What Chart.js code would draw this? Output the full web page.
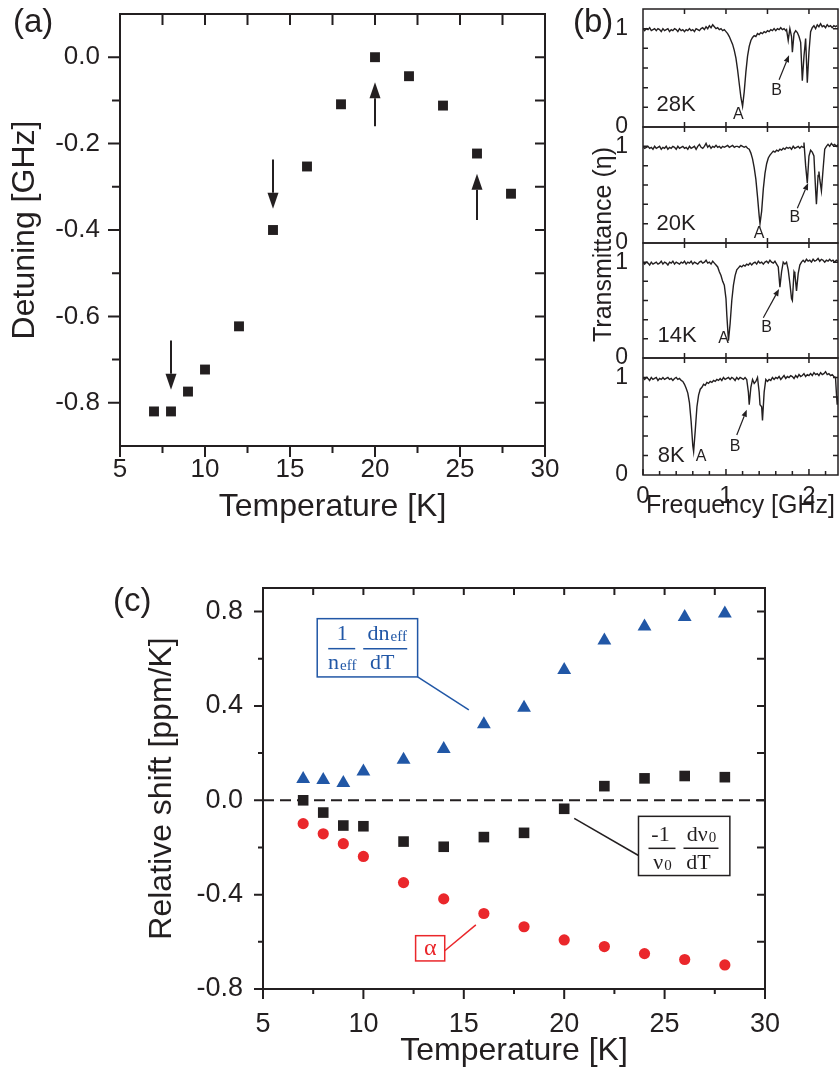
<!DOCTYPE html>
<html>
<head>
<meta charset="utf-8">
<title>Detuning, transmittance and relative shift vs temperature</title>
<script src="https://cdn.jsdelivr.net/npm/chart.js@4.4.1/dist/chart.umd.min.js"></script>
<style>
  body { margin: 0; background: #fff; }
  #page { position: relative; width: 839px; height: 1074px; overflow: hidden; font-family: "Liberation Sans", Arial, sans-serif; color: #231f20; }
  #page canvas { position: absolute; }
  .panel { position: absolute; font-size: 33px; line-height: 33px; }
  #tlabel { position: absolute; width: 240px; text-align: center; font-size: 25px; line-height: 25px; white-space: nowrap; transform: rotate(-90deg); }
</style>
</head>
<body>
<div id="page">
  <canvas id="chartA" width="580" height="540" style="left:0;top:0"></canvas>
  <canvas id="chartB28" width="259" height="140" style="left:580px;top:0"></canvas>
  <canvas id="chartB20" width="259" height="139" style="left:580px;top:117px"></canvas>
  <canvas id="chartB14" width="259" height="138" style="left:580px;top:233px"></canvas>
  <canvas id="chartB8" width="259" height="192" style="left:580px;top:348px"></canvas>
  <canvas id="chartC" width="839" height="514" style="left:0;top:560px"></canvas>
  <div class="panel" style="left:13px;top:4px">(a)</div>
  <div class="panel" style="left:573px;top:4px">(b)</div>
  <div class="panel" style="left:113px;top:583px">(c)</div>
  <div id="tlabel" style="left:482px;top:232px">Transmittance (&eta;)</div>
</div>
<script>
// ---- panel (a): detuning ----
var tempA = [7, 8, 9, 10, 12, 14, 16, 18, 20, 22, 24, 26, 28];
var detuning = [-0.82, -0.82, -0.774, -0.723, -0.623, -0.40, -0.253, -0.109, 0.0, -0.044, -0.112, -0.223, -0.316];
var tempTicks = [5, 10, 15, 20, 25, 30];
var tempMinor = [7.5, 12.5, 17.5, 22.5, 27.5];
var detTicks = [-0.8, -0.6, -0.4, -0.2, 0.0];
var detMinor = [-0.7, -0.5, -0.3, -0.1];

// ---- panel (b): transmittance spectra ----
var freq28 = [0.00, 0.02, 0.04, 0.06, 0.08, 0.10, 0.12, 0.14, 0.16, 0.18, 0.20, 0.22, 0.24, 0.26, 0.28, 0.30, 0.32, 0.34, 0.36, 0.38, 0.40, 0.42, 0.44, 0.46, 0.48, 0.50, 0.52, 0.54, 0.56, 0.58, 0.60, 0.62, 0.64, 0.66, 0.68, 0.70, 0.72, 0.74, 0.76, 0.78, 0.80, 0.82, 0.84, 0.86, 0.88, 0.90, 0.92, 0.94, 0.96, 0.98, 1.00, 1.02, 1.04, 1.06, 1.08, 1.10, 1.12, 1.14, 1.16, 1.18, 1.20, 1.22, 1.24, 1.26, 1.28, 1.30, 1.32, 1.34, 1.36, 1.38, 1.40, 1.42, 1.44, 1.46, 1.48, 1.50, 1.52, 1.54, 1.56, 1.58, 1.60, 1.62, 1.64, 1.66, 1.68, 1.70, 1.72, 1.73, 1.75, 1.77, 1.79, 1.80, 1.82, 1.84, 1.86, 1.88, 1.90, 1.92, 1.94, 1.96, 1.98, 2.00, 2.02, 2.04, 2.06, 2.08, 2.10, 2.12, 2.14, 2.16, 2.18, 2.20, 2.22, 2.24, 2.26, 2.28, 2.30, 2.32, 2.34];
var trans28 = [1.00, 0.98, 1.00, 0.99, 1.01, 0.98, 0.99, 1.00, 0.98, 1.00, 0.99, 0.97, 1.00, 0.98, 0.99, 1.00, 0.97, 0.99, 0.98, 1.00, 0.99, 0.97, 1.00, 0.98, 0.99, 0.97, 0.99, 0.98, 1.00, 0.98, 0.99, 0.97, 1.00, 0.99, 0.98, 1.00, 1.01, 0.99, 1.02, 1.00, 1.03, 1.01, 1.04, 1.02, 1.00, 1.01, 0.99, 1.00, 0.98, 0.99, 0.97, 0.95, 0.92, 0.88, 0.84, 0.78, 0.70, 0.58, 0.44, 0.30, 0.21, 0.36, 0.56, 0.72, 0.82, 0.88, 0.91, 0.93, 0.92, 0.95, 0.94, 0.96, 0.95, 0.97, 0.96, 0.98, 0.97, 0.99, 0.98, 1.00, 0.98, 1.00, 0.99, 1.01, 0.99, 1.00, 0.98, 0.99, 0.88, 1.00, 0.92, 0.76, 0.95, 0.98, 0.96, 0.92, 0.86, 0.47, 0.72, 0.90, 0.45, 0.76, 0.97, 1.01, 1.03, 1.00, 1.04, 1.02, 1.05, 1.02, 1.03, 1.01, 1.04, 1.02, 1.03, 1.01, 1.03, 1.02, 1.03];
var freq20 = [0.00, 0.02, 0.04, 0.06, 0.08, 0.10, 0.12, 0.14, 0.16, 0.18, 0.20, 0.22, 0.24, 0.26, 0.28, 0.30, 0.32, 0.34, 0.36, 0.38, 0.40, 0.42, 0.44, 0.46, 0.48, 0.50, 0.52, 0.54, 0.56, 0.58, 0.60, 0.62, 0.64, 0.66, 0.68, 0.70, 0.72, 0.74, 0.76, 0.78, 0.80, 0.82, 0.84, 0.86, 0.88, 0.90, 0.92, 0.94, 0.96, 0.98, 1.00, 1.02, 1.04, 1.06, 1.08, 1.10, 1.12, 1.14, 1.16, 1.18, 1.20, 1.22, 1.24, 1.26, 1.28, 1.30, 1.32, 1.34, 1.36, 1.38, 1.40, 1.41, 1.43, 1.45, 1.47, 1.49, 1.51, 1.53, 1.55, 1.57, 1.59, 1.61, 1.63, 1.65, 1.67, 1.69, 1.71, 1.73, 1.75, 1.77, 1.79, 1.81, 1.83, 1.85, 1.87, 1.89, 1.91, 1.93, 1.94, 1.96, 1.98, 2.00, 2.02, 2.04, 2.06, 2.08, 2.09, 2.11, 2.12, 2.13, 2.15, 2.17, 2.19, 2.21, 2.23, 2.25, 2.27, 2.29, 2.31, 2.33, 2.35];
var trans20 = [1.00, 0.98, 0.99, 1.00, 0.98, 0.99, 0.97, 1.00, 0.98, 0.99, 1.00, 0.97, 0.99, 0.98, 1.00, 0.97, 0.99, 0.98, 1.00, 0.99, 0.97, 1.00, 0.98, 0.99, 1.00, 0.98, 0.99, 0.97, 1.00, 0.98, 0.99, 1.00, 0.97, 1.00, 1.02, 0.99, 0.98, 1.00, 1.03, 0.99, 1.01, 0.98, 1.00, 0.99, 1.01, 0.99, 1.00, 0.98, 1.00, 0.99, 1.00, 1.01, 0.99, 1.00, 1.01, 0.99, 1.00, 1.00, 0.99, 1.01, 1.00, 0.99, 1.00, 0.98, 0.97, 0.93, 0.87, 0.78, 0.66, 0.48, 0.28, 0.20, 0.33, 0.56, 0.72, 0.82, 0.88, 0.91, 0.93, 0.95, 0.94, 0.96, 0.95, 0.97, 0.96, 0.98, 0.97, 0.99, 0.98, 0.99, 0.97, 1.00, 0.98, 0.99, 1.00, 0.98, 1.00, 0.99, 1.04, 0.80, 0.62, 0.90, 0.96, 0.94, 0.90, 0.55, 0.40, 0.70, 0.74, 0.66, 0.54, 0.76, 0.97, 1.00, 1.02, 1.00, 1.03, 1.01, 1.02, 1.00, 1.02];
var freq14 = [0.00, 0.02, 0.04, 0.06, 0.08, 0.10, 0.12, 0.14, 0.16, 0.18, 0.20, 0.22, 0.24, 0.26, 0.28, 0.30, 0.32, 0.34, 0.36, 0.38, 0.40, 0.42, 0.44, 0.46, 0.48, 0.50, 0.52, 0.54, 0.56, 0.58, 0.60, 0.62, 0.64, 0.66, 0.68, 0.70, 0.72, 0.74, 0.76, 0.78, 0.80, 0.82, 0.84, 0.86, 0.88, 0.90, 0.92, 0.94, 0.96, 0.98, 1.00, 1.01, 1.03, 1.05, 1.07, 1.09, 1.11, 1.13, 1.15, 1.17, 1.19, 1.21, 1.23, 1.25, 1.27, 1.29, 1.31, 1.33, 1.35, 1.37, 1.39, 1.41, 1.43, 1.45, 1.47, 1.49, 1.51, 1.53, 1.55, 1.57, 1.59, 1.61, 1.63, 1.65, 1.67, 1.69, 1.71, 1.73, 1.75, 1.77, 1.79, 1.80, 1.82, 1.83, 1.85, 1.87, 1.89, 1.91, 1.93, 1.95, 1.97, 1.99, 2.01, 2.03, 2.05, 2.07, 2.09, 2.11, 2.13, 2.15, 2.17, 2.19, 2.21, 2.23, 2.25, 2.27, 2.29, 2.31, 2.33, 2.35];
var trans14 = [1.00, 0.98, 1.00, 0.99, 0.97, 1.00, 0.98, 0.99, 1.00, 0.98, 0.99, 1.01, 0.98, 1.00, 0.99, 0.97, 1.00, 0.99, 1.01, 0.98, 1.00, 0.99, 0.98, 1.00, 0.99, 1.01, 0.98, 1.00, 0.99, 1.01, 0.98, 1.00, 0.99, 0.98, 1.00, 1.01, 0.99, 1.00, 1.02, 0.99, 1.00, 0.98, 1.01, 0.99, 0.97, 0.95, 0.90, 0.86, 0.80, 0.76, 0.62, 0.45, 0.18, 0.36, 0.60, 0.76, 0.86, 0.92, 0.94, 0.96, 0.95, 0.97, 0.96, 0.98, 0.97, 0.99, 0.97, 0.99, 1.00, 0.98, 1.01, 0.99, 1.00, 0.98, 1.00, 1.01, 0.99, 1.02, 1.00, 0.99, 1.01, 0.98, 0.95, 0.74, 0.90, 1.00, 0.98, 1.00, 0.92, 0.78, 0.62, 0.60, 0.90, 0.88, 0.70, 0.88, 0.97, 1.00, 1.02, 1.00, 1.03, 1.01, 1.02, 1.00, 1.03, 1.01, 1.02, 1.04, 1.01, 1.03, 1.02, 1.00, 1.02, 1.01, 1.03, 1.01, 1.02, 1.00, 1.02, 1.01, 1.02];
var freq8 = [0.00, 0.02, 0.04, 0.06, 0.08, 0.10, 0.12, 0.14, 0.16, 0.18, 0.20, 0.22, 0.24, 0.26, 0.28, 0.30, 0.32, 0.34, 0.36, 0.38, 0.40, 0.42, 0.44, 0.46, 0.48, 0.50, 0.52, 0.54, 0.56, 0.58, 0.60, 0.61, 0.63, 0.65, 0.67, 0.69, 0.71, 0.73, 0.75, 0.77, 0.79, 0.81, 0.83, 0.85, 0.87, 0.89, 0.91, 0.93, 0.95, 0.97, 0.99, 1.01, 1.03, 1.05, 1.07, 1.09, 1.11, 1.13, 1.15, 1.17, 1.19, 1.21, 1.23, 1.25, 1.27, 1.28, 1.30, 1.32, 1.34, 1.36, 1.38, 1.40, 1.41, 1.43, 1.44, 1.46, 1.48, 1.50, 1.52, 1.54, 1.56, 1.58, 1.60, 1.62, 1.64, 1.66, 1.68, 1.70, 1.72, 1.74, 1.76, 1.78, 1.80, 1.82, 1.84, 1.86, 1.88, 1.90, 1.92, 1.94, 1.96, 1.98, 2.00, 2.02, 2.04, 2.06, 2.08, 2.10, 2.12, 2.14, 2.16, 2.18, 2.20, 2.22, 2.24, 2.26, 2.28, 2.30, 2.32, 2.33, 2.34, 2.35];
var trans8 = [1.00, 0.98, 1.00, 0.99, 0.97, 1.00, 0.98, 0.99, 1.00, 0.97, 0.99, 0.98, 1.00, 0.98, 0.99, 1.00, 0.98, 0.99, 0.97, 0.99, 1.00, 0.98, 0.99, 0.97, 0.96, 0.93, 0.89, 0.84, 0.74, 0.55, 0.30, 0.24, 0.46, 0.70, 0.82, 0.88, 0.90, 0.93, 0.92, 0.95, 0.94, 0.96, 0.95, 0.97, 0.96, 0.98, 0.97, 0.99, 0.97, 1.00, 0.98, 0.99, 1.00, 0.98, 1.00, 0.99, 0.97, 1.00, 0.98, 1.00, 0.99, 0.98, 1.00, 0.98, 0.85, 0.72, 0.90, 0.98, 0.94, 0.96, 1.00, 0.85, 0.72, 0.70, 0.56, 0.85, 0.98, 0.96, 0.98, 0.97, 1.00, 0.98, 1.00, 0.99, 1.01, 0.98, 1.00, 1.02, 0.99, 1.01, 1.00, 1.02, 1.01, 0.99, 1.02, 1.00, 1.03, 1.01, 1.02, 1.04, 1.01, 1.03, 1.02, 1.04, 1.02, 1.05, 1.03, 1.04, 1.02, 1.05, 1.03, 1.04, 1.06, 1.03, 1.04, 1.02, 1.03, 1.01, 1.00, 0.85, 0.72, 0.80];
var freqTicks = [0, 1, 2];
var freqMinor = [0.2, 0.4, 0.6, 0.8, 1.2, 1.4, 1.6, 1.8, 2.2];
var freqFrameTicks = [0.5, 1.0, 1.5, 2.0];
var transTicks = [0, 1];
var transMinor = [0.2, 0.4, 0.6, 0.8, 1.0];

// ---- panel (c): relative shift ----
var tempC = [7, 8, 9, 10, 12, 14, 16, 18, 20, 22, 24, 26, 28];
var dneff = [0.09, 0.086, 0.073, 0.122, 0.172, 0.217, 0.322, 0.392, 0.552, 0.677, 0.737, 0.777, 0.792];
var dnu = [0.0, -0.052, -0.107, -0.11, -0.175, -0.197, -0.156, -0.138, -0.036, 0.06, 0.093, 0.103, 0.098];
var alpha = [-0.099, -0.142, -0.184, -0.238, -0.349, -0.418, -0.48, -0.536, -0.592, -0.62, -0.65, -0.675, -0.698];
var zeroX = [5, 30];
var zeroY = [0, 0];
var shiftTicks = [-0.8, -0.4, 0.0, 0.4, 0.8];
var shiftMinor = [-0.6, -0.2, 0.2, 0.6];

var BLACK = '#231f20';
var BLUE = '#2157a6';
var RED = '#ea272b';
var SERIF = '"Liberation Serif", "Times New Roman", serif';

Chart.defaults.font.family = '"Liberation Sans", Arial, sans-serif';
Chart.defaults.color = BLACK;

function pts(xs, ys) {
    return xs.map(function (x, i) { return {x: x, y: ys[i]}; });
}

function setTicks(values) {
    return function (scale) {
        scale.ticks = values.map(function (v) { return {value: v}; });
    };
}

// fix the axis box size and drop the label overhang padding Chart.js adds
function fixWidth(w) {
    return function (s) {
        s.width = w;
        s.paddingTop = 0; s.paddingBottom = 0; s.paddingLeft = 0; s.paddingRight = 0;
    };
}
function fixHeight(h) {
    return function (s) {
        s.height = h;
        s.paddingTop = 0; s.paddingBottom = 0; s.paddingLeft = 0; s.paddingRight = 0;
    };
}

// len > 0: outward, len < 0: inward
function drawTicks(chart, axis, side, values, len, width) {
    var ctx = chart.ctx, a = chart.chartArea, s = chart.scales[axis];
    ctx.save();
    ctx.strokeStyle = BLACK;
    ctx.lineWidth = width;
    ctx.beginPath();
    values.forEach(function (v) {
        var p = s.getPixelForValue(v);
        if (side === 'bottom') { ctx.moveTo(p, a.bottom); ctx.lineTo(p, a.bottom + len); }
        if (side === 'top') { ctx.moveTo(p, a.top); ctx.lineTo(p, a.top - len); }
        if (side === 'left') { ctx.moveTo(a.left, p); ctx.lineTo(a.left - len, p); }
        if (side === 'right') { ctx.moveTo(a.right, p); ctx.lineTo(a.right + len, p); }
    });
    ctx.stroke();
    ctx.restore();
}

function drawFrame(chart, width) {
    var ctx = chart.ctx, a = chart.chartArea;
    ctx.save();
    ctx.strokeStyle = BLACK;
    ctx.lineWidth = width;
    ctx.strokeRect(a.left, a.top, a.right - a.left, a.bottom - a.top);
    ctx.restore();
}

function arrow(ctx, x0, y0, x1, y1, head, halfW, color, lw) {
    var ang = Math.atan2(y1 - y0, x1 - x0);
    var bx = x1 - head * Math.cos(ang), by = y1 - head * Math.sin(ang);
    ctx.save();
    ctx.strokeStyle = color;
    ctx.fillStyle = color;
    ctx.lineWidth = lw;
    ctx.beginPath();
    ctx.moveTo(x0, y0);
    ctx.lineTo(bx, by);
    ctx.stroke();
    ctx.beginPath();
    ctx.moveTo(x1, y1);
    ctx.lineTo(bx + halfW * Math.sin(ang), by - halfW * Math.cos(ang));
    ctx.lineTo(bx - halfW * Math.sin(ang), by + halfW * Math.cos(ang));
    ctx.closePath();
    ctx.fill();
    ctx.restore();
}

// ================= (a) =================
new Chart(document.getElementById('chartA'), {
    type: 'scatter',
    data: {
        datasets: [{
            data: pts(tempA, detuning),
            pointStyle: 'rect',
            pointRadius: 7,
            pointBackgroundColor: BLACK,
            pointBorderWidth: 0
        }]
    },
    options: {
        responsive: false,
        animation: false,
        events: [],
        layout: { padding: { top: 14, right: 35, left: 0, bottom: 0 } },
        plugins: { legend: { display: false }, tooltip: { enabled: false } },
        scales: {
            x: {
                type: 'linear', min: 5, max: 30,
                afterBuildTicks: setTicks(tempTicks),
                afterFit: fixHeight(94),
                grid: { display: false, drawTicks: false },
                border: { display: false },
                ticks: { padding: 8, font: { size: 26 }, color: BLACK },
                title: { display: true, text: 'Temperature [K]', color: BLACK, font: { size: 32, lineHeight: 1 }, padding: { top: 0, bottom: 17 } }
            },
            y: {
                type: 'linear', min: -0.9, max: 0.1,
                afterBuildTicks: setTicks(detTicks),
                afterFit: fixWidth(120),
                grid: { display: false, drawTicks: false },
                border: { display: false },
                ticks: { padding: 20, font: { size: 26 }, color: BLACK, callback: function (v) { return v.toFixed(1); } },
                title: { display: true, text: 'Detuning [GHz]', color: BLACK, font: { size: 32, lineHeight: 1 }, padding: { top: 9, bottom: 0 } }
            }
        }
    },
    plugins: [{
        id: 'decoA',
        afterDraw: function (chart) {
            var ctx = chart.ctx, x = chart.scales.x, y = chart.scales.y;
            drawFrame(chart, 2);
            drawTicks(chart, 'x', 'bottom', tempTicks, 11, 2);
            drawTicks(chart, 'x', 'bottom', tempMinor, 7, 2);
            drawTicks(chart, 'x', 'top', tempTicks.concat(tempMinor), -11, 2);
            drawTicks(chart, 'y', 'left', detTicks, 12, 2);
            drawTicks(chart, 'y', 'left', detMinor, 8, 2);
            drawTicks(chart, 'y', 'right', detTicks.concat(detMinor), -10, 2);
            // arrows marking the spectra shown in (b)
            [[8, -0.656, -0.770], [14, -0.237, -0.351], [20, -0.160, -0.058], [26, -0.377, -0.270]].forEach(function (ar) {
                arrow(ctx, x.getPixelForValue(ar[0]), y.getPixelForValue(ar[1]),
                      x.getPixelForValue(ar[0]), y.getPixelForValue(ar[2]), 16, 5.5, BLACK, 2);
            });
        }
    }]
});

// ================= (b) =================
var specDeco = {
    id: 'specDeco',
    afterDraw: function (chart, args, o) {
        var ctx = chart.ctx, x = chart.scales.x, y = chart.scales.y;
        drawFrame(chart, 1.5);
        drawTicks(chart, 'y', 'left', transMinor, -5, 1.5);
        drawTicks(chart, 'y', 'right', transMinor, -5, 1.5);
        drawTicks(chart, 'x', 'top', freqFrameTicks, -5, 1.5);
        if (o.bottomAxis) {
            drawTicks(chart, 'x', 'bottom', freqMinor, -4, 1.5);
            drawTicks(chart, 'x', 'bottom', freqTicks, -6, 1.5);
        } else {
            drawTicks(chart, 'x', 'bottom', freqFrameTicks, -5, 1.5);
        }
        ctx.save();
        ctx.fillStyle = BLACK;
        ctx.textAlign = 'center';
        ctx.textBaseline = 'middle';
        ctx.font = '22px "Liberation Sans", Arial, sans-serif';
        ctx.fillText(o.name, x.getPixelForValue(o.nameAt[0]), y.getPixelForValue(o.nameAt[1]));
        ctx.font = '16px "Liberation Sans", Arial, sans-serif';
        ctx.fillText('A', x.getPixelForValue(o.aAt[0]), y.getPixelForValue(o.aAt[1]));
        ctx.fillText('B', x.getPixelForValue(o.bAt[0]), y.getPixelForValue(o.bAt[1]));
        ctx.restore();
        arrow(ctx, x.getPixelForValue(o.arrow[0]), y.getPixelForValue(o.arrow[1]),
              x.getPixelForValue(o.arrow[2]), y.getPixelForValue(o.arrow[3]), 7, 2.8, BLACK, 1.2);
    }
};

function spectrum(id, freq, trans, deco, pad, bottomAxis) {
    return new Chart(document.getElementById(id), {
        type: 'scatter',
        data: {
            datasets: [{
                data: pts(freq, trans),
                showLine: true,
                borderColor: BLACK,
                borderWidth: 1.4,
                pointRadius: 0,
                tension: 0
            }]
        },
        options: {
            responsive: false,
            animation: false,
            events: [],
            layout: { padding: { top: pad[0], right: 1, left: 0, bottom: pad[1] } },
            plugins: { legend: { display: false }, tooltip: { enabled: false }, specDeco: deco },
            scales: {
                x: {
                    type: 'linear', min: 0, max: 2.35,
                    display: bottomAxis,
                    afterBuildTicks: setTicks(freqTicks),
                    afterFit: fixHeight(bottomAxis ? 65 : 0),
                    grid: { display: false, drawTicks: false },
                    border: { display: false },
                    ticks: { padding: 7, font: { size: 24 }, color: BLACK },
                    title: { display: true, text: 'Frequency [GHz]', color: BLACK, font: { size: 25, lineHeight: 1 }, padding: { top: 0, bottom: 21 } }
                },
                y: {
                    type: 'linear', min: 0, max: 1.2,
                    afterBuildTicks: setTicks(transTicks),
                    afterFit: fixWidth(63),
                    grid: { display: false, drawTicks: false },
                    border: { display: false },
                    ticks: { padding: 15, font: { size: 23 }, color: BLACK }
                }
            }
        },
        plugins: [specDeco]
    });
}

spectrum('chartB28', freq28, trans28, { name: '28K', nameAt: [0.40, 0.22], aAt: [1.15, 0.13], bAt: [1.61, 0.375], arrow: [1.64, 0.48, 1.76, 0.73] }, [9, 13], false);
spectrum('chartB20', freq20, trans20, { name: '20K', nameAt: [0.40, 0.20], aAt: [1.40, 0.10], bAt: [1.83, 0.26], arrow: [1.86, 0.36, 1.99, 0.62] }, [10, 13], false);
spectrum('chartB14', freq14, trans14, { name: '14K', nameAt: [0.41, 0.23], aAt: [0.97, 0.20], bAt: [1.49, 0.32], arrow: [1.45, 0.42, 1.64, 0.72] }, [10, 13], false);
spectrum('chartB8', freq8, trans8, { name: '8K', nameAt: [0.34, 0.20], aAt: [0.70, 0.19], bAt: [1.11, 0.29], arrow: [1.13, 0.41, 1.25, 0.67], bottomAxis: true }, [10, 0], true);

// ================= (c) =================
function fracPart(ctx, cx, cy, main, sub, size, subSize) {
    ctx.font = size + 'px ' + SERIF;
    var w1 = ctx.measureText(main).width;
    var w2 = 0;
    if (sub) {
        ctx.font = subSize + 'px ' + SERIF;
        w2 = ctx.measureText(sub).width + 1;
    }
    var x0 = cx - (w1 + w2) / 2;
    ctx.textAlign = 'left';
    ctx.textBaseline = 'middle';
    ctx.font = size + 'px ' + SERIF;
    ctx.fillText(main, x0, cy);
    if (sub) {
        ctx.font = subSize + 'px ' + SERIF;
        ctx.fillText(sub, x0 + w1 + 1, cy + size * 0.12);
    }
}

function hbar(ctx, x0, x1, yy) {
    ctx.beginPath();
    ctx.moveTo(x0, yy);
    ctx.lineTo(x1, yy);
    ctx.stroke();
}

new Chart(document.getElementById('chartC'), {
    type: 'scatter',
    data: {
        datasets: [{
            label: '(1/neff) dneff/dT',
            data: pts(tempC, dneff),
            pointStyle: 'triangle',
            pointRadius: 8,
            pointBackgroundColor: BLUE,
            pointBorderWidth: 0
        }, {
            label: '(-1/v0) dv0/dT',
            data: pts(tempC, dnu),
            pointStyle: 'rect',
            pointRadius: 7.5,
            pointBackgroundColor: BLACK,
            pointBorderWidth: 0
        }, {
            label: 'alpha',
            data: pts(tempC, alpha),
            pointStyle: 'circle',
            pointRadius: 5.6,
            pointBackgroundColor: RED,
            pointBorderWidth: 0
        }, {
            label: 'zero',
            data: pts(zeroX, zeroY),
            showLine: true,
            borderColor: BLACK,
            borderWidth: 2,
            borderDash: [11, 6],
            pointRadius: 0
        }]
    },
    options: {
        responsive: false,
        animation: false,
        events: [],
        layout: { padding: { top: 28, right: 74, left: 0, bottom: 0 } },
        plugins: { legend: { display: false }, tooltip: { enabled: false } },
        scales: {
            x: {
                type: 'linear', min: 5, max: 30,
                afterBuildTicks: setTicks(tempTicks),
                afterFit: fixHeight(85),
                grid: { display: false, drawTicks: false },
                border: { display: false },
                ticks: { padding: 19, font: { size: 27 }, color: BLACK },
                title: { display: true, text: 'Temperature [K]', color: BLACK, font: { size: 32, lineHeight: 1 }, padding: { top: 0, bottom: 7 } }
            },
            y: {
                type: 'linear', min: -0.8, max: 0.9,
                afterBuildTicks: setTicks(shiftTicks),
                afterFit: fixWidth(263),
                grid: { display: false, drawTicks: false },
                border: { display: false },
                ticks: { padding: 20, font: { size: 27 }, color: BLACK, callback: function (v) { return v.toFixed(1); } },
                title: { display: true, text: 'Relative shift [ppm/K]', color: BLACK, font: { size: 32, lineHeight: 1 }, padding: { top: 146, bottom: 0 } }
            }
        }
    },
    plugins: [{
        id: 'decoC',
        afterDraw: function (chart) {
            var ctx = chart.ctx, x = chart.scales.x, y = chart.scales.y;
            var px = function (v) { return x.getPixelForValue(v); };
            var py = function (v) { return y.getPixelForValue(v); };
            drawFrame(chart, 2);
            drawTicks(chart, 'x', 'bottom', tempTicks, 10, 2);
            drawTicks(chart, 'x', 'bottom', tempMinor, 5, 2);
            drawTicks(chart, 'x', 'top', tempTicks.concat(tempMinor), -7, 2);
            drawTicks(chart, 'y', 'left', shiftTicks, 9, 2);
            drawTicks(chart, 'y', 'left', shiftMinor, 5, 2);
            drawTicks(chart, 'y', 'right', shiftTicks.concat(shiftMinor), -8, 2);

            ctx.save();
            ctx.lineWidth = 1.5;

            // blue label: (1/neff) dneff/dT
            var bl = px(7.7), bt = py(0.77), br = px(12.7), bb = py(0.523);
            ctx.strokeStyle = BLUE;
            ctx.fillStyle = BLUE;
            ctx.strokeRect(bl, bt, br - bl, bb - bt);
            ctx.beginPath();
            ctx.moveTo(br, bb);
            ctx.lineTo(px(15.25), py(0.383));
            ctx.stroke();
            hbar(ctx, bl + 11, bl + 38, bt + 30);
            hbar(ctx, bl + 46, bl + 90, bt + 30);
            fracPart(ctx, bl + 25, bt + 16, '1', '', 22, 15);
            fracPart(ctx, bl + 25, bt + 45, 'n', 'eff', 22, 15);
            fracPart(ctx, bl + 70, bt + 16, 'dn', 'eff', 22, 15);
            fracPart(ctx, bl + 65, bt + 45, 'dT', '', 22, 15);

            // black label: (-1/v0) dv0/dT
            var kl = px(23.7), kt = py(-0.068), kr = px(28.25), kb = py(-0.319);
            ctx.strokeStyle = BLACK;
            ctx.fillStyle = BLACK;
            ctx.strokeRect(kl, kt, kr - kl, kb - kt);
            ctx.beginPath();
            ctx.moveTo(px(20.5), py(-0.077));
            ctx.lineTo(kl, py(-0.234));
            ctx.stroke();
            hbar(ctx, kl + 10, kl + 37, kt + 32);
            hbar(ctx, kl + 45, kl + 80, kt + 32);
            fracPart(ctx, kl + 22, kt + 19, '-1', '', 22, 15);
            fracPart(ctx, kl + 24, kt + 47, '\u03bd', '0', 22, 15);
            fracPart(ctx, kl + 63, kt + 19, 'd\u03bd', '0', 22, 15);
            fracPart(ctx, kl + 60, kt + 47, 'dT', '', 22, 15);

            // red label: alpha
            var rl = px(12.6), rt = py(-0.574), rr = px(14.05), rb = py(-0.681);
            ctx.strokeStyle = RED;
            ctx.fillStyle = RED;
            ctx.strokeRect(rl, rt, rr - rl, rb - rt);
            ctx.beginPath();
            ctx.moveTo(rr, py(-0.638));
            ctx.lineTo(px(15.6), py(-0.528));
            ctx.stroke();
            fracPart(ctx, (rl + rr) / 2, (rt + rb) / 2, '\u03b1', '', 24, 15);
            ctx.restore();
        }
    }]
});
</script>
</body>
</html>
